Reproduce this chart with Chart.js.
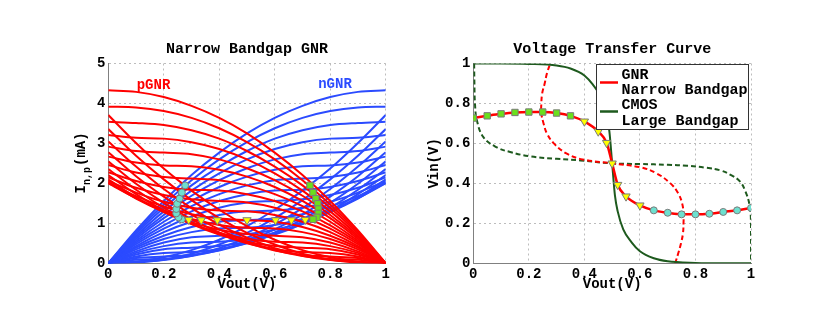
<!DOCTYPE html>
<html>
<head>
<meta charset="utf-8">
<script src="https://cdn.jsdelivr.net/npm/chart.js@4.4.1/dist/chart.umd.min.js"></script>
<style>
  html, body { margin: 0; padding: 0; background: #fff; }
  #wrap { position: relative; width: 830px; height: 335px; }
  canvas { position: absolute; top: 0; }
</style>
</head>
<body>
<div id="wrap">
  <canvas id="left" width="415" height="335" style="left:0"></canvas>
  <canvas id="right" width="415" height="335" style="left:415px"></canvas>
</div>
<script>
// Vout samples of the I-V curves
var vout = [0, 0.1, 0.2, 0.3, 0.4, 0.5, 0.6, 0.7, 0.8, 0.9, 1];

// pGNR current (mA), one row per Vin (0 .. 1 by 0.05)
var pGNR = [
  [4.33, 4.29, 4.16, 3.94, 3.64, 3.25, 2.77, 2.21, 1.56, 0.82, 0],
  [3.92, 3.90, 3.81, 3.64, 3.38, 3.03, 2.60, 2.08, 1.47, 0.78, 0],
  [3.54, 3.51, 3.46, 3.33, 3.12, 2.81, 2.42, 1.95, 1.39, 0.74, 0],
  [3.21, 3.14, 3.12, 3.03, 2.86, 2.60, 2.25, 1.82, 1.30, 0.69, 0],
  [2.92, 2.81, 2.77, 2.73, 2.60, 2.38, 2.08, 1.69, 1.21, 0.65, 0],
  [2.67, 2.52, 2.45, 2.43, 2.34, 2.17, 1.91, 1.56, 1.13, 0.61, 0],
  [2.46, 2.27, 2.16, 2.12, 2.08, 1.95, 1.73, 1.43, 1.04, 0.56, 0],
  [2.28, 2.06, 1.91, 1.84, 1.82, 1.73, 1.56, 1.30, 0.95, 0.52, 0],
  [2.15, 1.89, 1.71, 1.60, 1.56, 1.52, 1.39, 1.17, 0.87, 0.48, 0],
  [2.06, 1.77, 1.54, 1.39, 1.32, 1.30, 1.21, 1.04, 0.78, 0.43, 0],
  [2.01, 1.68, 1.42, 1.23, 1.12, 1.08, 1.04, 0.91, 0.69, 0.39, 0],
  [2.00, 1.63, 1.33, 1.11, 0.96, 0.89, 0.87, 0.78, 0.61, 0.35, 0],
  [2.03, 1.62, 1.29, 1.03, 0.84, 0.73, 0.69, 0.65, 0.52, 0.30, 0],
  [2.10, 1.65, 1.28, 0.99, 0.76, 0.61, 0.54, 0.52, 0.43, 0.26, 0],
  [2.21, 1.73, 1.32, 0.98, 0.72, 0.54, 0.43, 0.39, 0.35, 0.22, 0],
  [2.36, 1.84, 1.39, 1.02, 0.73, 0.50, 0.36, 0.28, 0.26, 0.17, 0],
  [2.55, 1.99, 1.51, 1.10, 0.77, 0.51, 0.32, 0.21, 0.17, 0.13, 0],
  [2.78, 2.18, 1.67, 1.22, 0.85, 0.55, 0.33, 0.18, 0.11, 0.09, 0],
  [3.05, 2.42, 1.86, 1.38, 0.97, 0.64, 0.38, 0.19, 0.08, 0.04, 0],
  [3.36, 2.69, 2.10, 1.58, 1.13, 0.76, 0.47, 0.24, 0.09, 0.02, 0],
  [3.71, 3.01, 2.37, 1.82, 1.34, 0.93, 0.59, 0.33, 0.15, 0.04, 0]
];

// nGNR current (mA)
var nGNR = [
  [0, 0.82, 1.56, 2.21, 2.77, 3.25, 3.64, 3.94, 4.16, 4.29, 4.33],
  [0, 0.78, 1.47, 2.08, 2.60, 3.03, 3.38, 3.64, 3.81, 3.90, 3.92],
  [0, 0.74, 1.39, 1.95, 2.42, 2.81, 3.12, 3.33, 3.46, 3.51, 3.54],
  [0, 0.69, 1.30, 1.82, 2.25, 2.60, 2.86, 3.03, 3.12, 3.14, 3.21],
  [0, 0.65, 1.21, 1.69, 2.08, 2.38, 2.60, 2.73, 2.77, 2.81, 2.92],
  [0, 0.61, 1.13, 1.56, 1.91, 2.17, 2.34, 2.43, 2.45, 2.52, 2.67],
  [0, 0.56, 1.04, 1.43, 1.73, 1.95, 2.08, 2.12, 2.16, 2.27, 2.46],
  [0, 0.52, 0.95, 1.30, 1.56, 1.73, 1.82, 1.84, 1.91, 2.06, 2.28],
  [0, 0.48, 0.87, 1.17, 1.39, 1.52, 1.56, 1.60, 1.71, 1.89, 2.15],
  [0, 0.43, 0.78, 1.04, 1.21, 1.30, 1.32, 1.39, 1.54, 1.77, 2.06],
  [0, 0.39, 0.69, 0.91, 1.04, 1.08, 1.12, 1.23, 1.42, 1.68, 2.01],
  [0, 0.35, 0.61, 0.78, 0.87, 0.89, 0.96, 1.11, 1.33, 1.63, 2.00],
  [0, 0.30, 0.52, 0.65, 0.69, 0.73, 0.84, 1.03, 1.29, 1.62, 2.03],
  [0, 0.26, 0.43, 0.52, 0.54, 0.61, 0.76, 0.99, 1.28, 1.65, 2.10],
  [0, 0.22, 0.35, 0.39, 0.43, 0.54, 0.72, 0.98, 1.32, 1.73, 2.21],
  [0, 0.17, 0.26, 0.28, 0.36, 0.50, 0.73, 1.02, 1.39, 1.84, 2.36],
  [0, 0.13, 0.17, 0.21, 0.32, 0.51, 0.77, 1.10, 1.51, 1.99, 2.55],
  [0, 0.09, 0.11, 0.18, 0.33, 0.55, 0.85, 1.22, 1.67, 2.18, 2.78],
  [0, 0.04, 0.08, 0.19, 0.38, 0.64, 0.97, 1.38, 1.86, 2.42, 3.05],
  [0, 0.02, 0.09, 0.24, 0.47, 0.76, 1.13, 1.58, 2.10, 2.69, 3.36],
  [0, 0.04, 0.15, 0.33, 0.59, 0.93, 1.34, 1.82, 2.37, 3.01, 3.71]
];

// operating points (VTC: x = input, y = output) and their currents
var sqIn   = [0, 0.05, 0.1, 0.15, 0.2, 0.25, 0.3, 0.35];
var sqOut  = [0.727, 0.738, 0.748, 0.755, 0.757, 0.757, 0.752, 0.738];
var sqCur  = [1.95, 1.77, 1.62, 1.49, 1.36, 1.25, 1.15, 1.1];
var triIn  = [0.4, 0.45, 0.48, 0.5, 0.52, 0.55, 0.6];
var triOut = [0.71, 0.66, 0.603, 0.5, 0.393, 0.335, 0.29];
var triCur = [1.09, 1.08, 1.08, 1.08, 1.08, 1.08, 1.09];
var cirIn  = [0.65, 0.7, 0.75, 0.8, 0.85, 0.9, 0.95, 1];
var cirOut = [0.265, 0.253, 0.245, 0.245, 0.248, 0.257, 0.265, 0.277];
var cirCur = [1.1, 1.15, 1.25, 1.36, 1.49, 1.62, 1.77, 1.95];

// mirrored GNR curve (dashed red)
var gnrDashX = [0.727, 0.738, 0.748, 0.755, 0.757, 0.757, 0.752, 0.738, 0.71, 0.66, 0.603, 0.5,
                0.393, 0.335, 0.29, 0.265, 0.253, 0.245, 0.245, 0.248, 0.257, 0.265, 0.277];
var gnrDashY = [0, 0.05, 0.1, 0.15, 0.2, 0.25, 0.3, 0.35, 0.4, 0.45, 0.48, 0.5,
                0.52, 0.55, 0.6, 0.65, 0.7, 0.75, 0.8, 0.85, 0.9, 0.95, 1];

// CMOS VTC and its mirror
var cmosX = [0, 0.1, 0.2, 0.3, 0.35, 0.4, 0.43, 0.46, 0.48, 0.49, 0.5, 0.51, 0.52, 0.54, 0.57, 0.6, 0.65, 0.7, 0.8, 0.9, 1];
var cmosY = [1, 1, 0.998, 0.99, 0.975, 0.94, 0.895, 0.83, 0.74, 0.66, 0.5, 0.34, 0.26, 0.17, 0.105, 0.06, 0.025, 0.01, 0.002, 0, 0];
var cmosDashX = [0.003, 0.004, 0.006, 0.013, 0.037, 0.085, 0.133, 0.205, 0.3, 0.385, 0.5, 0.6, 0.7, 0.77, 0.84, 0.89, 0.93, 0.96, 0.98, 0.995, 1, 1];
var cmosDashY = [1, 0.9, 0.8, 0.715, 0.63, 0.58, 0.557, 0.535, 0.523, 0.515, 0.5, 0.497, 0.493, 0.488, 0.478, 0.465, 0.44, 0.41, 0.36, 0.29, 0.2, 0];

var FONT = '"Liberation Mono", "Courier New", monospace';
var RED = '#ff0000', BLUE = '#2b4bff', GREEN = '#1e5a1e';

function pts(xs, ys) {
  return xs.map(function (x, i) { return { x: x, y: ys[i] }; });
}

function markers(data, style, fill, r, rot) {
  return { data: data, showLine: false, pointStyle: style, pointRadius: r, pointRotation: rot || 0,
           pointBackgroundColor: fill, pointBorderColor: '#7a7a7a', pointBorderWidth: 1 };
}

function line(data, color, w, dash, mono) {
  var d = { data: data, borderColor: color, borderWidth: w, pointRadius: 0, fill: false };
  if (dash) d.borderDash = dash;
  if (mono) d.cubicInterpolationMode = 'monotone'; else d.tension = 0.4;
  return d;
}

function fmt(v) { return String(Math.round(v * 10) / 10); }

function scales(yMax, yStep, yWidth) {
  var tf = { family: FONT, size: 14, weight: 'bold' };
  var grid = { color: '#bdbdbd', lineWidth: 1, drawTicks: false };
  var border = { color: '#808080', width: 1, dash: [2, 3] };
  return {
    x: { type: 'linear', min: 0, max: 1, grid: grid, border: border,
         ticks: { stepSize: 0.2, padding: 3, color: '#000', font: tf, maxRotation: 0, callback: fmt },
         afterFit: function (s) { s.height = 335 - 263.3; } },
    y: { type: 'linear', min: 0, max: yMax, grid: grid, border: border,
         ticks: { stepSize: yStep, padding: 3, color: '#000', font: tf, callback: fmt },
         afterFit: function (s) { s.width = yWidth; } }
  };
}

function drawCommon(ctx, a, title, xLabel) {
  var cx = (a.left + a.right) / 2;
  ctx.fillStyle = '#000';
  ctx.textAlign = 'center';
  ctx.textBaseline = 'middle';
  ctx.font = 'bold 15px ' + FONT;
  ctx.fillText(title, cx, 49.5);
  ctx.font = 'bold 14px ' + FONT;
  ctx.fillText(xLabel, cx, 284.5);
}

var leftDecor = {
  id: 'leftDecor',
  afterDraw: function (chart) {
    var ctx = chart.ctx, a = chart.chartArea;
    ctx.save();
    drawCommon(ctx, a, 'Narrow Bandgap GNR', 'Vout(V)');
    ctx.font = 'bold 14px ' + FONT;
    ctx.fillStyle = RED;
    ctx.fillText('pGNR', 153.5, 85);
    ctx.fillStyle = BLUE;
    ctx.fillText('nGNR', 335, 84);
    // y label with subscript
    ctx.fillStyle = '#000';
    ctx.translate(81, (a.top + a.bottom) / 2);
    ctx.rotate(-Math.PI / 2);
    ctx.textAlign = 'left';
    ctx.font = 'bold 14px ' + FONT;
    var wI = ctx.measureText('I').width, wP = ctx.measureText('(mA)').width;
    ctx.font = 'bold 10px ' + FONT;
    var wS = ctx.measureText('n,p').width;
    var x0 = -(wI + wS + wP) / 2;
    ctx.font = 'bold 14px ' + FONT;
    ctx.fillText('I', x0, 0);
    ctx.font = 'bold 10px ' + FONT;
    ctx.fillText('n,p', x0 + wI, 6);
    ctx.font = 'bold 14px ' + FONT;
    ctx.fillText('(mA)', x0 + wI + wS + 1, 0);
    ctx.restore();
  }
};

var rightDecor = {
  id: 'rightDecor',
  afterDraw: function (chart) {
    var ctx = chart.ctx, a = chart.chartArea;
    ctx.save();
    drawCommon(ctx, a, 'Voltage Transfer Curve', 'Vout(V)');
    ctx.save();
    ctx.translate(19.5, (a.top + a.bottom) / 2);
    ctx.rotate(-Math.PI / 2);
    ctx.font = 'bold 14px ' + FONT;
    ctx.fillText('Vin(V)', 0, 0);
    ctx.restore();
    // legend box
    ctx.fillStyle = '#fff';
    ctx.fillRect(181, 64, 152, 65);
    ctx.strokeStyle = '#333';
    ctx.lineWidth = 1;
    ctx.strokeRect(181.5, 64.5, 152, 65);
    ctx.lineWidth = 2.5;
    ctx.strokeStyle = RED;
    ctx.beginPath(); ctx.moveTo(185, 82.5); ctx.lineTo(203, 82.5); ctx.stroke();
    ctx.strokeStyle = GREEN;
    ctx.beginPath(); ctx.moveTo(185, 111.5); ctx.lineTo(203, 111.5); ctx.stroke();
    ctx.fillStyle = '#000';
    ctx.textAlign = 'left';
    ctx.font = 'bold 15px ' + FONT;
    ctx.fillText('GNR', 206.5, 75);
    ctx.fillText('Narrow Bandgap', 206.5, 90.5);
    ctx.fillText('CMOS', 206.5, 105.5);
    ctx.fillText('Large Bandgap', 206.5, 121.5);
    ctx.restore();
  }
};

// left: I-V curves
var leftSets = [
  markers(pts(sqOut, sqCur), 'rect', '#6be01c', 4.5),
  markers(pts(triOut, triCur), 'triangle', '#ffff00', 4.8, 180),
  markers(pts(cirOut, cirCur), 'circle', '#6ee0cf', 3.5)
];
pGNR.forEach(function (row) { leftSets.push(line(pts(vout, row), RED, 2, null, true)); });
nGNR.forEach(function (row) { leftSets.push(line(pts(vout, row), BLUE, 2, null, true)); });

new Chart(document.getElementById('left'), {
  type: 'line',
  data: { datasets: leftSets },
  options: {
    responsive: false, animation: false, events: [],
    layout: { padding: { left: 0, top: 63.5, right: 415 - 385.7, bottom: 0 } },
    plugins: { legend: { display: false }, tooltip: { enabled: false } },
    scales: scales(5, 1, 108.3)
  },
  plugins: [leftDecor]
});

// right: voltage transfer curves
var vtcX = sqIn.concat(triIn, cirIn);
var vtcY = sqOut.concat(triOut, cirOut);
var rightSets = [
  markers(pts(sqIn, sqOut), 'rect', '#6be01c', 4.5),
  markers(pts(triIn, triOut), 'triangle', '#ffff00', 4.8, 180),
  markers(pts(cirIn, cirOut), 'circle', '#6ee0cf', 3.5),
  line(pts(vtcX, vtcY), RED, 2.5, null, true),
  line(pts(cmosX, cmosY), GREEN, 2, null, true),
  line(pts(gnrDashX, gnrDashY), RED, 2, [5, 3], false),
  line(pts(cmosDashX, cmosDashY), GREEN, 2, [5, 3], false)
];

new Chart(document.getElementById('right'), {
  type: 'line',
  data: { datasets: rightSets },
  options: {
    responsive: false, animation: false, events: [],
    layout: { padding: { left: 0, top: 63.5, right: 415 - 336, bottom: 0 } },
    plugins: { legend: { display: false }, tooltip: { enabled: false } },
    scales: scales(1, 0.2, 58.3)
  },
  plugins: [rightDecor]
});
</script>
</body>
</html>
